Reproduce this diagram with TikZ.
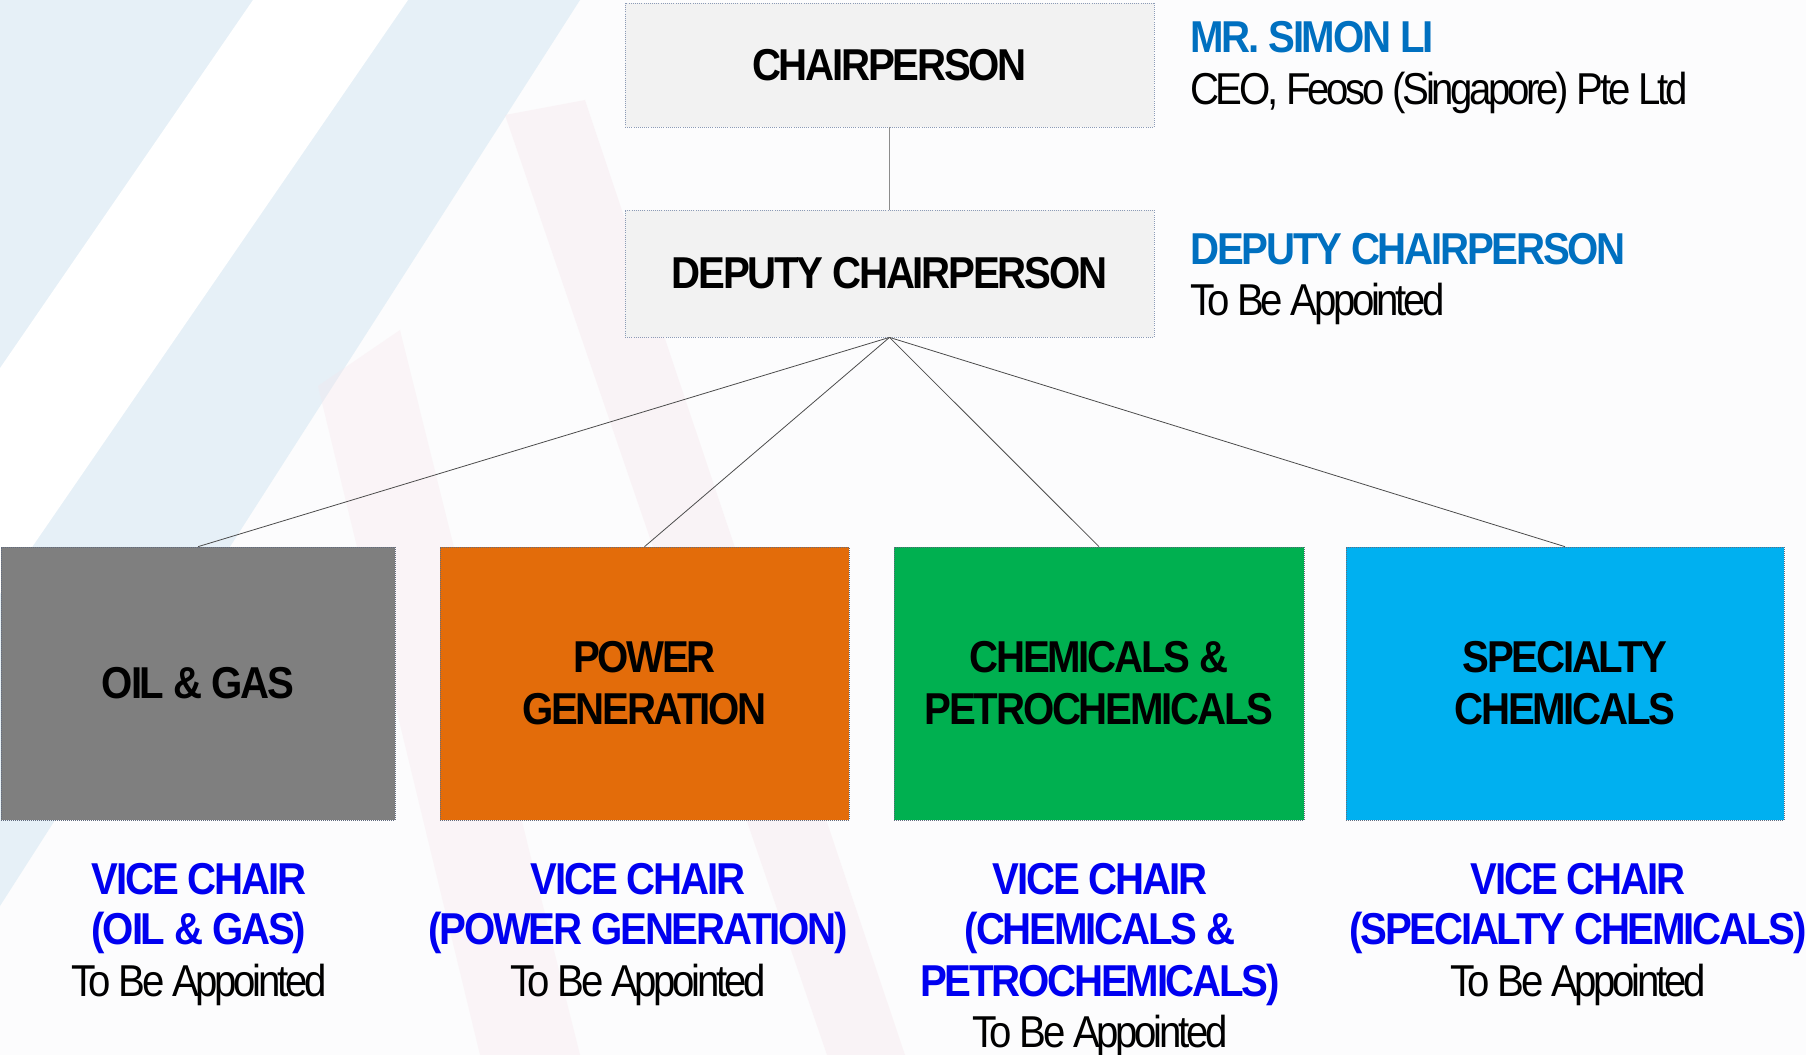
\documentclass[tikz,border=0pt]{standalone}
\usepackage{fontspec}
\setmainfont{Liberation Sans}[FakeStretch=0.9, UprightFeatures={LetterSpace=-7.5}, BoldFeatures={LetterSpace=-5}]
\definecolor{bgbase}{RGB}{252,252,253}
\definecolor{bgblue}{RGB}{230,240,247}
\definecolor{bgpink}{RGB}{246,228,234}
\definecolor{boxgray}{RGB}{242,242,242}
\definecolor{bordc}{RGB}{140,155,182}
\definecolor{nameblue}{RGB}{0,112,192}
\definecolor{vblue}{RGB}{0,0,240}
\definecolor{ugray}{RGB}{127,127,127}
\definecolor{uorange}{RGB}{227,108,10}
\definecolor{ugreen}{RGB}{0,176,80}
\definecolor{ucyan}{RGB}{0,176,240}
\newcommand\hbig{\fontsize{33.5}{39}\selectfont\bfseries}
\newcommand\rbig{\fontsize{33.5}{39}\selectfont}
\begin{document}
\begin{tikzpicture}[x=0.75pt,y=-0.75pt,
  topbox/.style={draw=bordc, densely dotted, line width=0.6pt, fill=boxgray,
    minimum width=396.75pt, inner sep=0pt, font=\hbig},
  unitbox/.style={draw=bordc!70!black, densely dotted, line width=0.5pt,
    minimum height=204.75pt, inner sep=0pt, align=center, font=\hbig},
  conn/.style={draw=black!70, line width=0.6pt},
  lbl/.style={anchor=base west, inner sep=0pt},
  vl/.style={anchor=base, inner sep=0pt}
]
\useasboundingbox (0,0) rectangle (1806,1055);
\begin{scope}
\clip (0,0) rectangle (1806,1055);
\fill[bgbase] (0,0) rectangle (1806,1055);
\fill[bgblue] (0,0) -- (580,0) -- (0,906) -- cycle;
\fill[white] (253,0) -- (408,0) -- (-317,1055) -- (-472,1055) -- cycle;
\fill[bgpink, opacity=0.35] (505,115) -- (585,100) -- (905,1055) -- (827,1055) -- cycle;
\fill[bgpink, opacity=0.3] (318,386) -- (400,330) -- (580,1055) -- (480,1055) -- cycle;
\end{scope}

% boxes
\node[topbox, minimum height=93pt] (chair) at (889.5,65) {CHAIRPERSON};
\node[topbox, minimum height=95.25pt] (deputy) at (889.5,273.5) {DEPUTY CHAIRPERSON};
\node[unitbox, fill=ugray, minimum width=295.5pt] (oil) at (198,683.5) {OIL \& GAS};
\node[unitbox, fill=uorange, minimum width=306.75pt] (power) at (644.5,683.5) {POWER\\GENERATION};
\node[unitbox, fill=ugreen, minimum width=307.5pt] (chem) at (1099,683.5) {CHEMICALS \&\\PETROCHEMICALS};
\node[unitbox, fill=ucyan, minimum width=328.5pt] (spec) at (1565,683.5) {SPECIALTY\\CHEMICALS};

% connectors
\draw[conn, draw=black!45] (chair.south) -- (deputy.north);
\draw[conn] (deputy.south) -- (oil.north);
\draw[conn] (deputy.south) -- (power.north);
\draw[conn] (deputy.south) -- (chem.north);
\draw[conn] (deputy.south) -- (spec.north);

% right-hand labels
\node[lbl, text=nameblue, font=\hbig] (nm) at (1190,53) {MR. SIMON LI};
\node[lbl, font=\rbig] (ceo) at (1190,105) {CEO, Feoso (Singapore) Pte Ltd};
\node[lbl, text=nameblue, font=\hbig] (dcl) at (1190,265) {DEPUTY CHAIRPERSON};
\node[lbl, font=\rbig] (dtba) at (1190,316) {To Be Appointed};

% vice chair labels
\node[vl, text=vblue, font=\hbig] (v1a) at (199,894) {VICE CHAIR};
\node[vl, text=vblue, font=\hbig] (v1b) at (199,944) {(OIL \& GAS)};
\node[vl, font=\rbig] (v1c) at (199,996) {To Be Appointed};

\node[vl, text=vblue, font=\hbig] (v2a) at (638,894) {VICE CHAIR};
\node[vl, text=vblue, font=\hbig] (v2b) at (638,944) {(POWER GENERATION)};
\node[vl, font=\rbig] (v2c) at (638,996) {To Be Appointed};

\node[vl, text=vblue, font=\hbig] (v3a) at (1100,894) {VICE CHAIR};
\node[vl, text=vblue, font=\hbig] (v3b) at (1100,944) {(CHEMICALS \&};
\node[vl, text=vblue, font=\hbig] (v3c) at (1100,996) {PETROCHEMICALS)};
\node[vl, font=\rbig] (v3d) at (1100,1047) {To Be Appointed};

\node[vl, text=vblue, font=\hbig] (v4a) at (1578,894) {VICE CHAIR};
\node[vl, text=vblue, font=\hbig] (v4b) at (1578,944) {(SPECIALTY CHEMICALS)};
\node[vl, font=\rbig] (v4c) at (1578,996) {To Be Appointed};
\end{tikzpicture}
\end{document}
